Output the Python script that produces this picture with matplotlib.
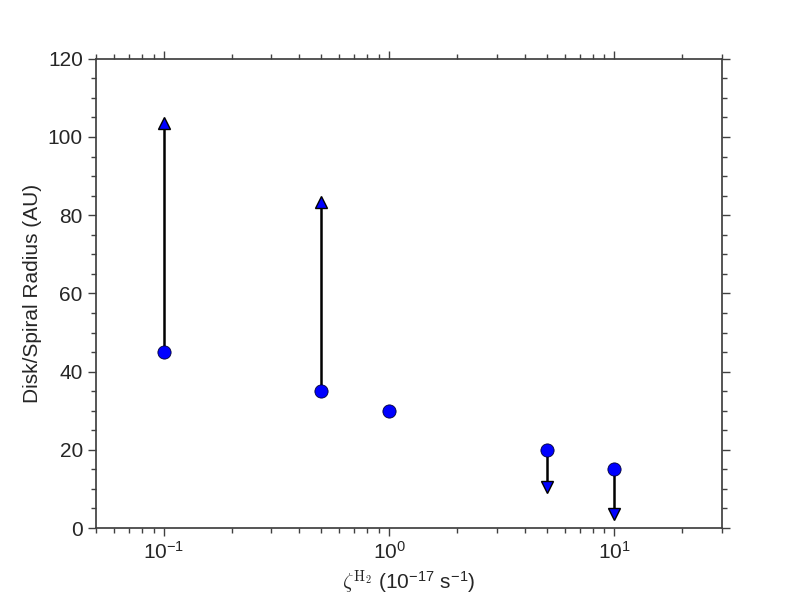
import numpy as np
import matplotlib
matplotlib.use('Agg')
import matplotlib.pyplot as plt
from matplotlib.ticker import MultipleLocator

# data
zeta = [0.1, 0.5, 1.0, 5.0, 10.0]
radius = [45, 35, 30, 20, 15]
# limit arrows: x, start, end
lim_x = [0.1, 0.5, 5.0, 10.0]
lim_start = [45, 35, 20, 15]
lim_end = [103.5, 83.5, 10.5, 3.5]

plt.rcParams['font.family'] = ['Liberation Sans', 'DejaVu Sans']
plt.rcParams['mathtext.fontset'] = 'cm'
dark = '#262626'
plt.rcParams['text.color'] = dark
plt.rcParams['axes.labelcolor'] = dark
plt.rcParams['xtick.color'] = dark
plt.rcParams['ytick.color'] = dark

fig, ax = plt.subplots(figsize=(8, 6), dpi=100)
fig.subplots_adjust(left=0.12, right=0.9025, top=0.902, bottom=0.12)

ax.vlines(lim_x, lim_start, lim_end, color='black', lw=1.8, zorder=2)
for x, s, e in zip(lim_x, lim_start, lim_end):
    m = '^' if e > s else 'v'
    ax.plot(x, e, marker=m, ms=8, mfc='blue', mec='black', mew=1, ls='none', zorder=3)
ax.plot(zeta, radius, 'o', ms=9.5, mfc='blue', mec='#000033', mew=0.6, zorder=4)

ax.set_xscale('log')
ax.set_xlim(0.05, 30)
ax.set_ylim(0, 120)
ax.yaxis.set_major_locator(MultipleLocator(20))
ax.yaxis.set_minor_locator(MultipleLocator(5))

for sp in ax.spines.values():
    sp.set_color('#404040')
    sp.set_linewidth(1.25)

ax.tick_params(which='both', direction='out', top=True, right=True, width=1, colors='#404040',
               labelcolor=dark)
ax.tick_params(which='major', length=6, labelsize=15)
ax.tick_params(which='minor', length=3.5)

ax.set_ylabel('Disk/Spiral Radius (AU)', fontsize=15)
ax.set_xlabel(r'$\zeta^{\rm H_2}$ ($\mathdefault{10^{-17}}$ s$\mathdefault{^{-1}}$)', fontsize=15)

fig.savefig('out.png', dpi=100)
